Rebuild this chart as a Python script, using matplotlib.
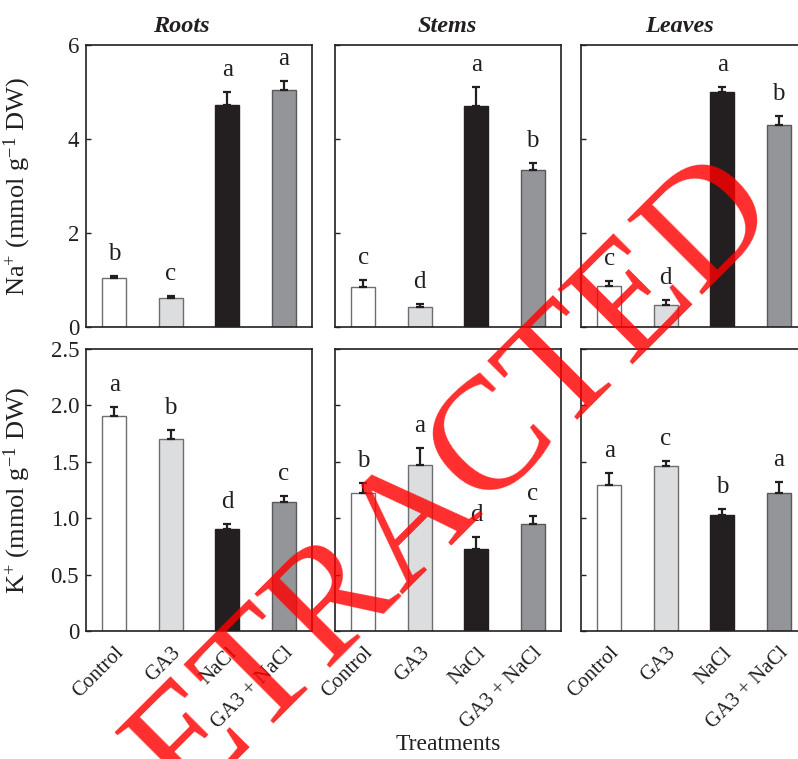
import matplotlib
matplotlib.use("Agg")
import matplotlib.pyplot as plt
import numpy as np

plt.rcParams['font.family'] = ['Liberation Serif', 'DejaVu Serif']
plt.rcParams['mathtext.fontset'] = 'custom'
plt.rcParams['mathtext.rm'] = 'Liberation Serif'
plt.rcParams['mathtext.it'] = 'Liberation Serif:italic'

treatments = ["Control", "GA3", "NaCl", "GA3 + NaCl"]
tissues = ["Roots", "Stems", "Leaves"]

na_roots = [1.05, 0.61, 4.72, 5.04]
na_roots_err = [0.03, 0.05, 0.27, 0.19]
na_stems = [0.86, 0.42, 4.70, 3.34]
na_stems_err = [0.15, 0.07, 0.41, 0.15]
na_leaves = [0.87, 0.46, 4.99, 4.29]
na_leaves_err = [0.11, 0.11, 0.11, 0.19]

k_roots = [1.91, 1.70, 0.90, 1.14]
k_roots_err = [0.08, 0.08, 0.05, 0.06]
k_stems = [1.22, 1.47, 0.73, 0.95]
k_stems_err = [0.09, 0.15, 0.10, 0.07]
k_leaves = [1.29, 1.46, 1.03, 1.22]
k_leaves_err = [0.11, 0.05, 0.05, 0.10]

na_letters = [["b", "c", "a", "a"], ["c", "d", "a", "b"], ["c", "d", "a", "b"]]
k_letters = [["a", "b", "d", "c"], ["b", "a", "d", "c"], ["a", "c", "b", "a"]]

na_vals = [na_roots, na_stems, na_leaves]
na_errs = [na_roots_err, na_stems_err, na_leaves_err]
k_vals = [k_roots, k_stems, k_leaves]
k_errs = [k_roots_err, k_stems_err, k_leaves_err]

bar_colors = ["#ffffff", "#dcdddf", "#231f20", "#939598"]
edge_colors = ["#6d6e71", "#6d6e71", "#231f20", "#58595b"]
dark = "#231f20"

W, H = 798, 759
fig = plt.figure(figsize=(W / 100, H / 100), dpi=100)

col_left = [86, 335, 581]
title_x = [0.42, 0.496, 0.438]
ax_w = 226
rows = [(45, 327), (349, 631)]

def px_axes(left, top, bottom):
    return [left / W, 1 - bottom / H, ax_w / W, (bottom - top) / H]

x = np.arange(4)
for r, (top, bottom) in enumerate(rows):
    for c in range(3):
        ax = fig.add_axes(px_axes(col_left[c], top, bottom))
        vals = na_vals[c] if r == 0 else k_vals[c]
        errs = na_errs[c] if r == 0 else k_errs[c]
        letters = na_letters[c] if r == 0 else k_letters[c]
        ax.bar(x, vals, width=0.42, color=bar_colors, edgecolor=edge_colors,
               linewidth=1.0, zorder=2)
        ax.errorbar(x, vals, yerr=[np.zeros(4), errs], fmt='none', ecolor=dark,
                    elinewidth=1.6, capsize=3.2, capthick=1.6, zorder=3)
        for xi, v, e, L in zip(x, vals, errs, letters):
            ax.annotate(L, (xi, v + e), xytext=(0, 11.5), textcoords='offset points',
                        ha='center', va='baseline', fontsize=18, color=dark)
        ax.set_xlim(-0.5, 3.5)
        if r == 0:
            ax.set_ylim(0, 6)
            ax.set_yticks([0, 2, 4, 6])
            ax.set_yticklabels(["0", "2", "4", "6"])
            ax.set_title(tissues[c], fontsize=17.5, fontweight='bold', style='italic',
                         pad=9, color=dark, x=title_x[c])
            ax.set_xticks([])
        else:
            ax.set_ylim(0, 2.5)
            ax.set_yticks([0, 0.5, 1.0, 1.5, 2.0, 2.5])
            ax.set_yticklabels(["0", "0.5", "1.0", "1.5", "2.0", "2.5"])
            ax.set_xticks(x)
            ax.set_xticklabels(treatments, rotation=45, ha='right',
                               rotation_mode='anchor', fontsize=15, color=dark)
            ax.tick_params(axis='x', length=0, pad=9)
        ax.tick_params(axis='y', direction='in', length=3.5, width=1.0,
                       labelsize=16.5, colors=dark, pad=5)
        if c != 0:
            ax.tick_params(axis='y', labelleft=False)
        for s in ax.spines.values():
            s.set_color(dark)
            s.set_linewidth(1.2)
        if c == 0:
            if r == 0:
                ax.set_ylabel(r'Na$^{+}$ (mmol g$^{\mathregular{-1}}$ DW)', fontsize=19,
                              color=dark)
            else:
                ax.set_ylabel(r'K$^{+}$ (mmol g$^{\mathregular{-1}}$ DW)', fontsize=19,
                              color=dark)
            ax.yaxis.set_label_coords(-0.235, 0.5)
        if r == 1 and c == 1:
            ax.set_xlabel("Treatments", fontsize=17, color=dark, labelpad=1)

fig.text(0.5236, 0.315, "RETRACTED", rotation=45, rotation_mode='anchor',
         ha='center', va='center', fontsize=116, color='#ff0000', alpha=0.82,
         family='Liberation Serif', zorder=10)

fig.savefig("out.png", dpi=100)
